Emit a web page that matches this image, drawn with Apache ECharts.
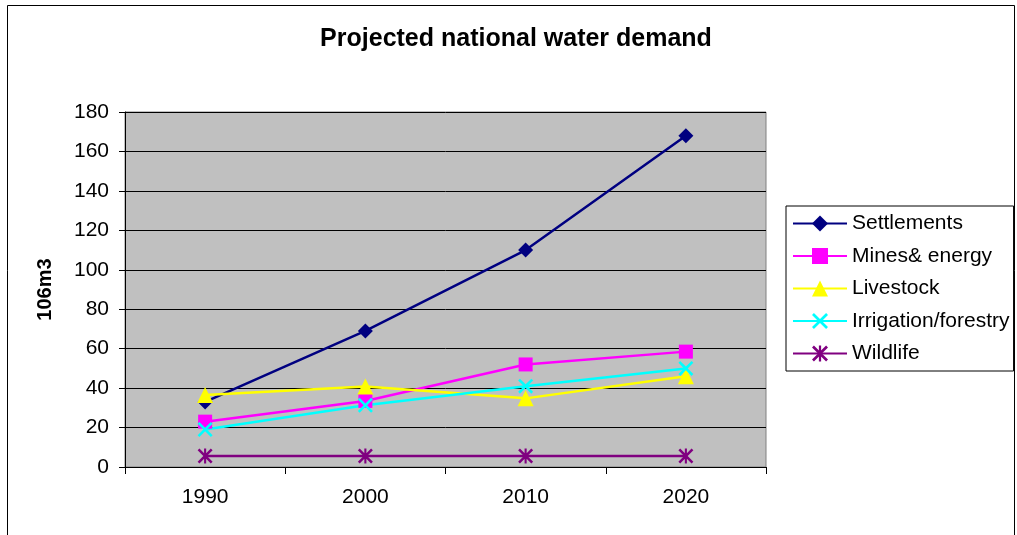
<!DOCTYPE html>
<html>
<head>
<meta charset="utf-8">
<script src="https://cdn.jsdelivr.net/npm/echarts@6/dist/echarts.min.js"></script>
<style>
html,body{margin:0;padding:0;background:#fff;}
#chart{width:1017px;height:535px;}
</style>
</head>
<body>
<div id="chart"></div>
<script>
const categories = ['1990', '2000', '2010', '2020'];
const settlements = [33, 69, 110, 168];
const mines = [23, 33.5, 52, 58.5];
const livestock = [36.5, 40.8, 34.8, 46];
const irrigation = [19, 31.3, 41, 50];
const wildlife = [5.6, 5.6, 5.6, 5.6];
const yTicks = [0, 20, 40, 60, 80, 100, 120, 140, 160, 180];

const FONT = '"Liberation Sans", Arial, sans-serif';
const xPath = 'path://M0,1.2L1.2,0L5,3.8L8.8,0L10,1.2L6.2,5L10,8.8L8.8,10L5,6.2L1.2,10L0,8.8L3.8,5Z';
const starPath = 'path://M0,1.2L1.2,0L5,3.8L8.8,0L10,1.2L6.2,5L10,8.8L8.8,10L5,6.2L1.2,10L0,8.8L3.8,5Z M4.3,0L5.7,0L5.7,10L4.3,10Z';

function mk(name, data, color, symbol, size) {
  return {
    name: name, type: 'line', data: data,
    symbol: symbol, symbolSize: size,
    lineStyle: { color: color, width: 2.5 },
    itemStyle: { color: color },
    emphasis: { disabled: true },
    animation: false
  };
}

const chart = echarts.init(document.getElementById('chart'));
chart.setOption({
  backgroundColor: '#fff',
  animation: false,
  title: {
    text: 'Projected national water demand',
    left: 511, top: 22, textAlign: 'center',
    textStyle: { fontFamily: FONT, fontSize: 25, fontWeight: 'bold', color: '#000' }
  },
  graphic: [{
    type: 'rect', shape: { x: 7.5, y: 5.5, width: 1007, height: 540 },
    style: { fill: 'none', stroke: '#000', lineWidth: 1 }, silent: true
  }],
  grid: { left: 125, right: 251, top: 112, bottom: 68, show: true, backgroundColor: '#C0C0C0', borderColor: '#808080', borderWidth: 1 },
  legend: {
    orient: 'vertical', left: 786, top: 206,
    backgroundColor: '#fff', borderColor: '#000', borderWidth: 1,
    padding: [7, 4, 7, 6], itemGap: 11.5, itemWidth: 54, itemHeight: 20,
    textStyle: { fontFamily: FONT, fontSize: 21, color: '#000' },
    data: ['Settlements', 'Mines& energy', 'Livestock', 'Irrigation/forestry', 'Wildlife']
  },
  xAxis: {
    type: 'category', data: categories, boundaryGap: true,
    axisLine: { lineStyle: { color: '#000', width: 1 } },
    axisTick: { show: true, length: 7, lineStyle: { color: '#000' } },
    axisLabel: { fontFamily: FONT, fontSize: 21, color: '#000', margin: 20 },
    splitLine: { show: false }
  },
  yAxis: {
    type: 'value', min: 0, max: 180, interval: 20,
    name: '106m3', nameLocation: 'middle', nameGap: 70, nameRotate: 90,
    nameTextStyle: { fontFamily: FONT, fontSize: 20, fontWeight: 'bold', color: '#000' },
    axisLine: { show: true, lineStyle: { color: '#000', width: 1 } },
    axisTick: { show: true, length: 6, lineStyle: { color: '#000' } },
    axisLabel: { fontFamily: FONT, fontSize: 21, color: '#000', margin: 16,
      formatter: function (v) { return yTicks.indexOf(v) >= 0 ? String(v) : ''; } },
    splitLine: { show: true, lineStyle: { color: '#000', width: 1 } }
  },
  series: [
    mk('Settlements', settlements, '#000080', 'diamond', 15),
    mk('Mines& energy', mines, '#FF00FF', 'rect', 14),
    mk('Livestock', livestock, '#FFFF00', 'triangle', 16),
    mk('Irrigation/forestry', irrigation, '#00FFFF', xPath, 15),
    mk('Wildlife', wildlife, '#800080', starPath, 15)
  ]
});
</script>
</body>
</html>
